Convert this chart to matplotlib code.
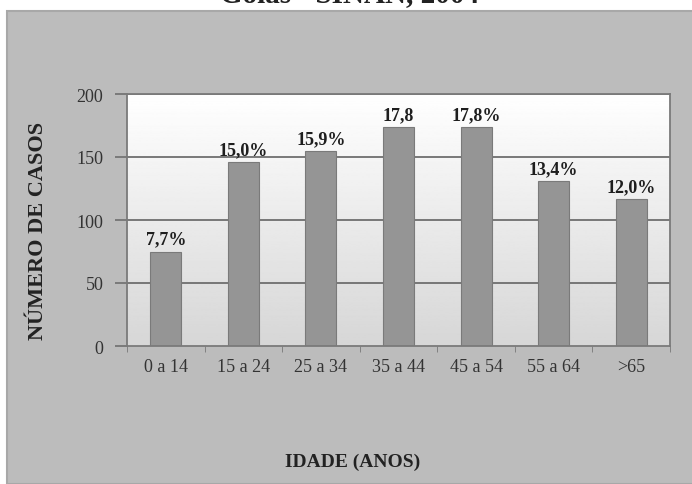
import matplotlib.pyplot as plt
import numpy as np
from matplotlib.patches import Rectangle

faixas = ['0 a 14', '15 a 24', '25 a 34', '35 a 44', '45 a 54', '55 a 64', '>65']
casos = [75, 146, 155, 174, 174, 131, 117]
rotulos = ['7,7%', '15,0%', '15,9%', '17,8', '17,8%', '13,4%', '12,0%']
y_ticks = [0, 50, 100, 150, 200]

plt.rcParams['font.family'] = ['Liberation Serif', 'DejaVu Serif']

fig = plt.figure(figsize=(6.92, 4.85), dpi=100)
fig.patch.set_facecolor('white')

# fundo cinza do gráfico
fig.patches.append(Rectangle((7 / 692, 0), 1, 1 - 12 / 485, transform=fig.transFigure,
                             facecolor='#bcbcbc', edgecolor='#a8a8a8', lw=1.5, zorder=-10))

# título (cortado na parte de cima)
fig.text(0.505, 1 - 2 / 485, 'Goiás - SINAN, 2004', ha='center', va='baseline',
         fontsize=21, fontweight='bold', color='#222222')

ax = fig.add_axes([127 / 692, (485 - 347) / 485, (670 - 127) / 692, (347 - 95) / 485])
x = np.arange(len(faixas))

# área de plotagem em degradê branco -> cinza claro
grad = np.linspace(1.0, 0.84, 256).reshape(-1, 1)
ax.imshow(grad, cmap='gray', vmin=0, vmax=1, aspect='auto',
          extent=[-0.5, len(faixas) - 0.5, 0, 200], origin='upper', zorder=0)

for v in [50, 100, 150, 200]:
    ax.axhline(v, color='#6e6e6e', lw=1.3, zorder=1)

ax.bar(x, casos, width=0.4, color='#959595', edgecolor='#7a7a7a', lw=0.8, zorder=2)
for xi, v, r in zip(x, casos, rotulos):
    ax.text(xi, v + 3, r, ha='center', va='bottom', fontsize=13,
            fontweight='bold', color='#1e1e1e')

ax.set_xlim(-0.5, len(faixas) - 0.5)
ax.set_ylim(0, 200)
ax.set_yticks(y_ticks)
ax.set_xticks(x)
ax.set_xticklabels(faixas)
ax.set_xticks(np.arange(len(faixas) + 1) - 0.5, minor=True)
ax.tick_params(axis='x', which='major', length=0, pad=9, labelsize=13, colors='#333333')
ax.tick_params(axis='x', which='minor', length=4, color='#777777', direction='out')
ax.tick_params(axis='y', length=9, width=1.2, color='#6e6e6e', pad=8,
               labelsize=13, labelcolor='#333333')

for s in ['top', 'left', 'right', 'bottom']:
    ax.spines[s].set_color('#7a7a7a')
    ax.spines[s].set_linewidth(1.3)

ax.set_ylabel('NÚMERO DE CASOS', fontsize=16, fontweight='bold', color='#222222')
ax.yaxis.set_label_coords((48 - 127) / (670 - 127), 0.46)
fig.text(353 / 692, 1 - 462 / 485, 'IDADE (ANOS)', ha='center', va='center',
         fontsize=14, fontweight='bold', color='#222222')

fig.savefig('out.png', dpi=100)
